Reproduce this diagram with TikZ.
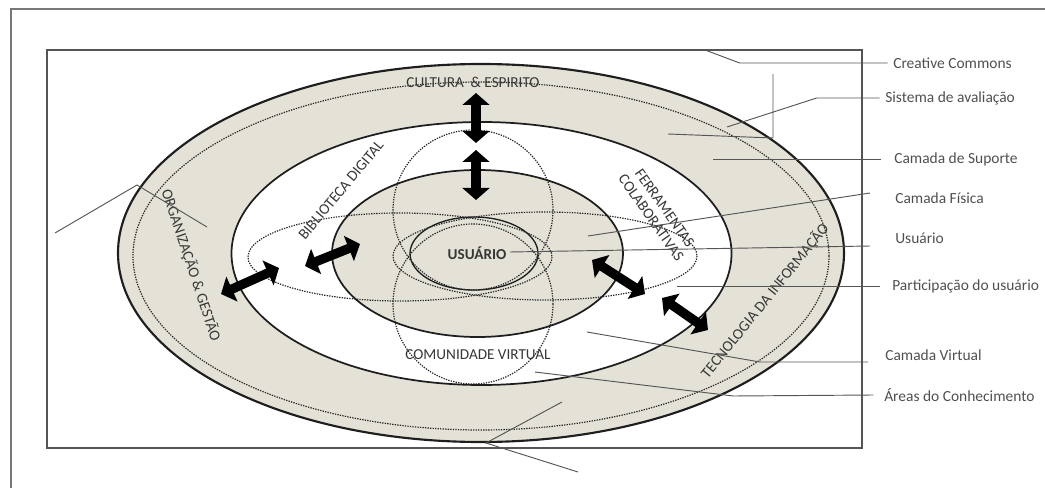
\documentclass[tikz,border=0pt]{standalone}
\usepackage{fontspec}
\setmainfont{Carlito}
\usetikzlibrary{arrows.meta}

\begin{document}
\begin{tikzpicture}[x=0.75pt,y=0.75pt,yscale=-1,xscale=1,
  ring/.style={color={rgb, 255:red, 30; green, 30; blue, 30}, line width=1.3pt},
  dotline/.style={color={rgb, 255:red, 40; green, 40; blue, 40}, line width=0.9pt, dash pattern={on 1pt off 0.9pt}},
  dblarrow/.style={line width=7pt, {Triangle[width=20pt,length=9pt]}-{Triangle[width=20pt,length=9pt]}},
  ptr/.style={color={rgb, 255:red, 85; green, 85; blue, 85}, line width=0.7pt},
  lbl/.style={anchor=west, inner sep=0pt, text={rgb, 255:red, 80; green, 80; blue, 80}, font=\fontsize{11.6}{13}\selectfont},
  caps/.style={inner sep=0pt, text={rgb, 255:red, 55; green, 55; blue, 55}, font=\fontsize{11.4}{12.5}\selectfont, align=center}
]
\useasboundingbox (0,0) rectangle (1045,488);

%Shape: Rectangle (outer frame)
\draw [color={rgb, 255:red, 120; green, 120; blue, 120}, line width=1.6pt] (11,9) rectangle (1100,540);
%Shape: Rectangle (inner frame)
\draw [color={rgb, 255:red, 85; green, 85; blue, 85}, line width=1.5pt] (47,50) rectangle (862,448);

%Shape: Ellipse (outer ring)
\draw [ring, line width=1.6pt, fill={rgb, 255:red, 228; green, 225; blue, 214}] (481,253) ellipse [x radius=363, y radius=189];
%Shape: Ellipse (dotted ring)
\draw [dotline] (481,256) ellipse [x radius=348, y radius=174];
%Shape: Ellipse (white layer)
\draw [ring, fill=white] (481.5,253.5) ellipse [x radius=250, y radius=131.5];
%Shape: Ellipse (inner layer)
\draw [ring, fill={rgb, 255:red, 228; green, 225; blue, 214}] (477.5,253.5) ellipse [x radius=145.5, y radius=83.5];
%Shape: Ellipse (user)
\draw [ring, line width=1pt] (474,253.5) ellipse [x radius=64, y radius=36.5];

%Shape: Circle (dotted, upper and lower)
\draw [dotline] (473,210) circle [radius=80];
\draw [dotline] (473,304) circle [radius=80];
%Shape: Ellipse (dotted, left and right)
\draw [dotline] (400,257) ellipse [x radius=152, y radius=44];
\draw [dotline] (545,256) ellipse [x radius=152, y radius=44];

% Arrow ends
\coordinate (a1s) at (476,93);  \coordinate (a1e) at (476,143);
\coordinate (a2s) at (476,150); \coordinate (a2e) at (476,200);
\coordinate (a3s) at (305,266); \coordinate (a3e) at (360,244);
\coordinate (a4s) at (221,294); \coordinate (a4e) at (279,268);
\coordinate (a5s) at (592,260); \coordinate (a5e) at (645,294);
\coordinate (a6s) at (662,298); \coordinate (a6e) at (708,330);

%Straight Lines (double arrows)
\draw [dblarrow] (a1s) -- (a1e);
\draw [dblarrow] (a2s) -- (a2e);
\draw [dblarrow] (a3s) -- (a3e);
\draw [dblarrow] (a4s) -- (a4e);
\draw [dblarrow] (a5s) -- (a5e);
\draw [dblarrow] (a6s) -- (a6e);

% Text Node
\node [caps] (cult) at (473,82) {CULTURA \ \& ESPIRITO};
% Text Node
\node [caps, rotate=50] (bib) at (341,190) {BIBLIOTECA DIGITAL};
% Text Node
\node [caps, rotate=-55] (fer) at (658,213) {FERRAMENTAS\\COLABORATIVAS};
% Text Node
\node [caps, font=\fontsize{11.4}{12.5}\selectfont\bfseries] (usr) at (477,253) {USUÁRIO};
% Text Node
\node [caps] (com) at (478,355) {COMUNIDADE VIRTUAL};
% Text Node
\node [caps, rotate=-71.5] (org) at (191,265) {ORGANIZAÇÃO \& GESTÃO};
% Text Node
\node [caps, rotate=51] (tec) at (765,301) {TECNOLOGIA DA INFORMAÇÃO};

% Text Node
\node [lbl] (cc) at (893,63) {Creative Commons};
% Text Node
\node [lbl] (sis) at (885,98) {Sistema de avaliação};
% Text Node
\node [lbl] (sup) at (894,159) {Camada de Suporte};
% Text Node
\node [lbl] (fis) at (895,198) {Camada Física};
% Text Node
\node [lbl] (usu) at (895,238) {Usuário};
% Text Node
\node [lbl] (par) at (892,286) {Participação do usuário};
% Text Node
\node [lbl] (vir) at (885,355) {Camada Virtual};
% Text Node
\node [lbl] (are) at (884,395) {Áreas do Conhecimento};

% Pointer ends
\coordinate (pcc) at (705,50);
\coordinate (psis) at (727,127);
\coordinate (psup) at (713,159);
\coordinate (pfis) at (588,236);
\coordinate (pusu) at (510,252);
\coordinate (ppar) at (677,286);
\coordinate (pvir) at (587,332);
\coordinate (pare) at (535,372);

%Straight Lines (pointers)
\draw [ptr] ([xshift=-4pt]cc.west) -- ++(-148,0) -- (pcc);
\draw [ptr] ([xshift=-4pt]sis.west) -- ++(-63,0) -- (psis);
\draw [ptr] ([xshift=-10pt]sup.west) -- (psup);
\draw [ptr] ([shift={(-25,-5)}]fis.west) -- (pfis);
\draw [ptr] ([shift={(-25,8)}]usu.west) -- (pusu);
\draw [ptr] ([xshift=-9pt]par.west) -- (ppar);
\draw [ptr] ([shift={(-17,7)}]vir.west) -- ++(-108,0) -- (pvir);
\draw [ptr] ([xshift=-8pt]are.west) -- ++(-140,1) -- (pare);

%Straight Lines (free brackets)
\coordinate (b1) at (773,74);
\coordinate (b2) at (773,138);
\coordinate (b3) at (668,134);
\draw [ptr] (b1) -- (b2) -- (b3);
\coordinate (l1) at (55,233);
\coordinate (l2) at (137,185);
\coordinate (l3) at (207,227);
\draw [ptr] (l1) -- (l2) -- (l3);
\coordinate (m1) at (562,402);
\coordinate (m2) at (486,443);
\coordinate (m3) at (578,472);
\draw [ptr] (m1) -- (m2) -- (m3);

\end{tikzpicture}
\end{document}
